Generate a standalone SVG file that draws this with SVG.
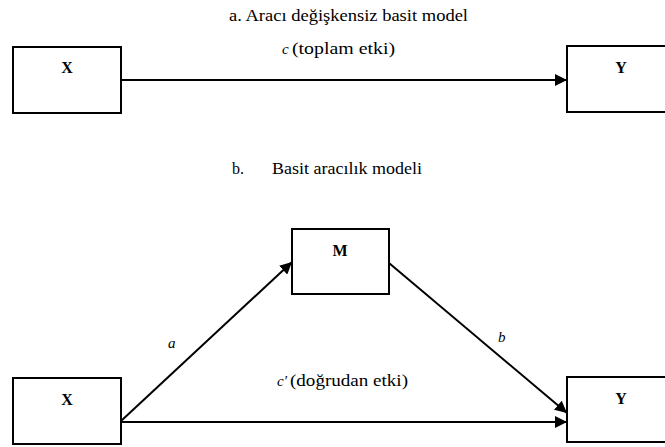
<svg xmlns="http://www.w3.org/2000/svg" width="665" height="447" viewBox="0 0 665 447" font-family="Liberation Serif, Times New Roman, serif">
<style>
.box{fill:#fff;stroke:#000;stroke-width:2}
.edge{stroke:#000;stroke-width:2;fill:none}
</style>
<defs>
<marker id="ah" viewBox="0 0 10 10" refX="10" refY="5" markerWidth="6" markerHeight="6" orient="auto" markerUnits="strokeWidth">
<path d="M0,0 L10,5 L0,10 z" fill="#000"/>
</marker>
</defs>
<rect width="665" height="447" fill="#fff"/>
<g font-size="16" fill="#000">
<text x="229" y="21" textLength="239" lengthAdjust="spacingAndGlyphs">a. Aracı değişkensiz basit model</text>
<text x="232" y="174">b.</text>
<text x="272" y="174" textLength="150" lengthAdjust="spacingAndGlyphs">Basit aracılık modeli</text>
</g>
<g id="edges">
<line class="edge" x1="121" y1="80" x2="567" y2="80" marker-end="url(#ah)"/>
<line class="edge" x1="121" y1="421" x2="292" y2="262" marker-end="url(#ah)"/>
<line class="edge" x1="389" y1="263" x2="567" y2="413" marker-end="url(#ah)"/>
<line class="edge" x1="121" y1="422" x2="567" y2="422" marker-end="url(#ah)"/>
<g font-size="15" font-style="italic" fill="#000">
<text x="282" y="54">c</text>
<text x="168" y="348">a</text>
<text x="498" y="342">b</text>
<text x="277" y="386">c′</text>
</g>
<g font-size="16" fill="#000">
<text x="292" y="54" textLength="103" lengthAdjust="spacingAndGlyphs">(toplam  etki)</text>
<text x="290" y="386" textLength="118" lengthAdjust="spacingAndGlyphs">(doğrudan etki)</text>
</g>
</g>
<g font-size="16" font-weight="bold" text-anchor="middle" fill="#000">
<g id="node-x1"><rect class="box" x="13" y="47" width="108" height="66"/><text x="67" y="73">X</text></g>
<g id="node-y1"><rect class="box" x="567" y="46" width="110" height="66"/><text x="621" y="73">Y</text></g>
<g id="node-m"><rect class="box" x="292" y="229" width="97" height="65"/><text x="340" y="256">M</text></g>
<g id="node-x2"><rect class="box" x="13" y="378" width="108" height="66"/><text x="67" y="405">X</text></g>
<g id="node-y2"><rect class="box" x="567" y="377" width="110" height="65"/><text x="621" y="404">Y</text></g>
</g>
</svg>
